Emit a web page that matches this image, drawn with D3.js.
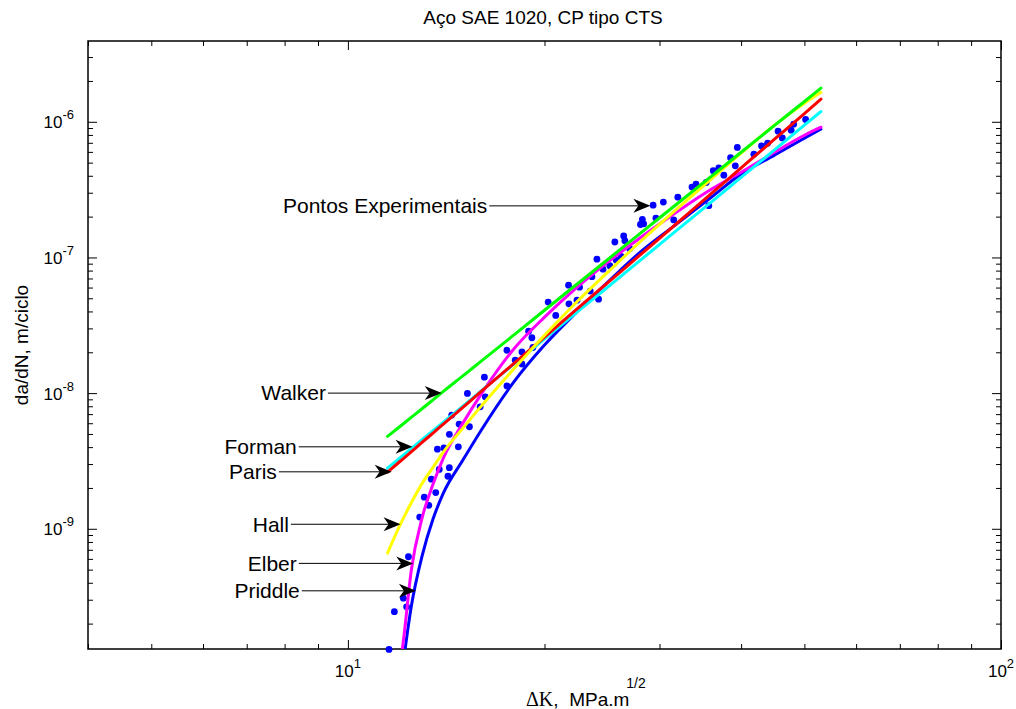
<!DOCTYPE html>
<html>
<head>
<meta charset="utf-8">
<script src="https://cdn.jsdelivr.net/npm/d3@7"></script>
<style>
  body { margin: 0; background: #fff; }
  svg text { font-family: "Liberation Sans", Arial, Helvetica, sans-serif; fill: #000; }
</style>
</head>
<body>
<script>
// ΔK (MPa.m^1/2) grid used by the model curves
const kGrid = [11.5, 12, 12.1, 12.2, 12.5, 13, 13.5, 14, 15, 16, 18, 20, 22, 25, 28, 32, 36, 40, 45, 50, 53];

// da/dN (m/ciclo) of each model, null where the curve is not drawn
const walker  = [4.80e-9, 5.65e-9, null, null, 6.62e-9, 7.70e-9, 8.93e-9, 1.03e-8, 1.34e-8, 1.72e-8, 2.71e-8, 4.08e-8, 5.90e-8, 9.66e-8, 1.50e-7, 2.51e-7, 3.96e-7, 5.96e-7, 9.40e-7, 1.41e-6, 1.77e-6];
const paris   = [2.62e-9, 3.12e-9, null, null, 3.69e-9, 4.35e-9, 5.08e-9, 5.91e-9, 7.86e-9, 1.03e-8, 1.67e-8, 2.59e-8, 3.85e-8, 6.52e-8, 1.04e-7, 1.81e-7, 2.95e-7, 4.57e-7, 7.45e-7, 1.15e-6, 1.47e-6];
const forman  = [2.80e-9, 3.31e-9, null, null, 3.89e-9, 4.55e-9, 5.28e-9, 6.10e-9, 8.02e-9, 1.04e-8, 1.65e-8, 2.51e-8, 3.66e-8, 6.05e-8, 9.48e-8, 1.61e-7, 2.56e-7, 3.89e-7, 6.21e-7, 9.46e-7, 1.19e-6];
const hall    = [6.62e-10, 1.05e-9, null, null, 1.55e-9, 2.17e-9, 2.84e-9, 3.68e-9, 5.52e-9, 8.02e-9, 1.53e-8, 2.67e-8, 4.30e-8, 7.79e-8, 1.30e-7, 2.31e-7, 3.78e-7, 5.87e-7, 9.44e-7, 1.37e-6, 1.65e-6];
const elber   = [null, null, 1.23e-10, 1.70e-10, 4.88e-10, 1.22e-9, 2.13e-9, 3.32e-9, 6.01e-9, 9.84e-9, 2.15e-8, 3.63e-8, 5.55e-8, 9.23e-8, 1.39e-7, 2.19e-7, 3.18e-7, 4.25e-7, 5.97e-7, 7.96e-7, 9.12e-7];
const priddle = [null, null, null, 1.17e-10, 2.65e-10, 6.40e-10, 1.18e-9, 1.83e-9, 3.21e-9, 5.33e-9, 1.23e-8, 2.26e-8, 3.63e-8, 6.58e-8, 1.09e-7, 1.79e-7, 2.78e-7, 4.12e-7, 5.68e-7, 7.57e-7, 8.83e-7];

// experimental points
const dotK = [11.56, 11.78, 12.16, 12.30, 12.38, 12.88, 13.09, 13.30, 13.42, 13.63, 13.71, 13.80, 14.03, 14.23, 14.30, 14.30, 14.42, 14.76, 14.80, 15.24,
  15.35, 15.94, 16.18, 16.23, 17.52, 17.52, 18.04, 18.47, 18.47, 18.91, 19.13, 19.20, 20.26, 20.81, 21.77, 21.80, 22.43, 22.63, 23.50, 23.64,
  24.06, 24.20, 24.58, 25.18, 25.63, 25.76, 26.20, 26.44, 26.55, 27.01, 28.05, 28.24, 28.37, 29.33, 29.62, 30.41, 31.54, 32.00, 33.64, 34.12,
  35.37, 35.70, 36.26, 36.98, 37.64, 38.54, 39.19, 39.47, 41.84, 42.99, 43.91, 45.57, 46.26, 47.72, 48.14, 50.22];
const dotV = [1.29e-10, 2.45e-10, 3.08e-10, 2.66e-10, 6.22e-10, 1.22e-9, 1.71e-9, 1.49e-9, 2.32e-9, 1.85e-9, 3.86e-9, 2.74e-9, 3.94e-9, 2.44e-9, 2.82e-9, 4.97e-9, 6.89e-9, 4.02e-9, 5.91e-9, 9.95e-9,
  5.65e-9, 7.93e-9, 1.31e-8, 9.39e-9, 2.07e-8, 1.13e-8, 1.75e-8, 2.01e-8, 1.64e-8, 2.86e-8, 2.56e-8, 2.17e-8, 4.69e-8, 3.74e-8, 6.25e-8, 4.55e-8, 4.84e-8, 6.04e-8, 5.65e-8, 7.22e-8,
  9.72e-8, 4.93e-8, 8.20e-8, 8.70e-8, 1.30e-7, 9.55e-8, 1.02e-7, 1.44e-7, 1.33e-7, 1.16e-7, 1.75e-7, 1.91e-7, 1.77e-7, 2.43e-7, 1.95e-7, 2.56e-7, 1.89e-7, 2.78e-7, 3.30e-7, 3.47e-7,
  3.57e-7, 2.41e-7, 4.36e-7, 4.57e-7, 4.04e-7, 5.43e-7, 4.74e-7, 6.47e-7, 5.77e-7, 6.64e-7, 6.95e-7, 8.53e-7, 7.60e-7, 8.67e-7, 9.60e-7, 1.04e-6];

// annotations (label, arrow tail ΔK, arrow tip ΔK, da/dN level)
const annotLabels = ["Pontos Experimentais", "Walker", "Forman", "Paris", "Hall", "Elber", "Priddle"];
const annotTailK  = [16.46, 9.32, 8.41, 7.84, 8.18, 8.41, 8.50];
const annotTipK   = [29.05, 13.92, 12.56, 11.67, 12.04, 12.59, 12.71];
const annotV      = [2.40e-7, 1.0e-8, 4.02e-9, 2.63e-9, 1.08e-9, 5.56e-10, 3.49e-10];

const xMajor = [10, 100];
const yMajor = [1e-9, 1e-8, 1e-7, 1e-6];

const width = 1016;
const height = 709;
const padL = 88, padR = 1001, padT = 41, padB = 649;

const svg = d3.select("body").append("svg").attr("width", width).attr("height", height);

const x = d3.scaleLog().domain([4, 100]).range([padL, padR]);
const y = d3.scaleLog().domain([1.3e-10, 3.94e-6]).range([padB, padT]);

svg.append("clipPath").attr("id", "plot")
  .append("rect").attr("x", padL).attr("y", padT).attr("width", padR - padL).attr("height", padB - padT);

/** minor ticks come from the log scales themselves */
const xMinor = x.ticks().filter(d => !xMajor.includes(d));
const yMinor = y.ticks().filter(d => !yMajor.some(m => Math.abs(d / m - 1) < 1e-6));

function ticks(axis, tr) {
  const g = svg.append("g").attr("transform", tr).call(axis);
  g.select(".domain").remove();
  g.selectAll("text").remove();
  g.selectAll("line").attr("stroke", "#000");
}
ticks(d3.axisBottom(x).tickValues(xMajor).tickSize(-9), `translate(0,${padB})`);
ticks(d3.axisBottom(x).tickValues(xMinor).tickSize(-5), `translate(0,${padB})`);
ticks(d3.axisTop(x).tickValues(xMajor).tickSize(-9), `translate(0,${padT})`);
ticks(d3.axisTop(x).tickValues(xMinor).tickSize(-5), `translate(0,${padT})`);
ticks(d3.axisLeft(y).tickValues(yMajor).tickSize(-9), `translate(${padL},0)`);
ticks(d3.axisLeft(y).tickValues(yMinor).tickSize(-5), `translate(${padL},0)`);
ticks(d3.axisRight(y).tickValues(yMajor).tickSize(-9), `translate(${padR},0)`);
ticks(d3.axisRight(y).tickValues(yMinor).tickSize(-5), `translate(${padR},0)`);

svg.append("rect")
  .attr("x", padL).attr("y", padT).attr("width", padR - padL).attr("height", padB - padT)
  .attr("fill", "none").attr("stroke", "#000").attr("stroke-width", 1.5);

/** tick labels 10^n */
const xl = svg.selectAll(".xlab").data(xMajor).join("text")
  .attr("class", "xlab")
  .attr("x", d => x(d)).attr("y", 677)
  .attr("text-anchor", "middle").style("font-size", "17px");
xl.append("tspan").text("10");
xl.append("tspan").attr("dy", -9).style("font-size", "13px").text(d => Math.round(Math.log10(d)));

const yl = svg.selectAll(".ylab").data(yMajor).join("text")
  .attr("class", "ylab")
  .attr("x", 74).attr("y", d => y(d) + 6.5)
  .attr("text-anchor", "end").style("font-size", "17px");
yl.append("tspan").text("10");
yl.append("tspan").attr("dy", -9).style("font-size", "13px").text(d => "-" + Math.round(-Math.log10(d)));

/** titles */
svg.append("text").attr("x", 543).attr("y", 24).attr("text-anchor", "middle")
  .style("font-size", "19px").text("Aço SAE 1020, CP tipo CTS");

svg.append("text").attr("transform", "translate(28,345) rotate(-90)").attr("text-anchor", "middle")
  .style("font-size", "19px").text("da/dN, m/ciclo");

const xt = svg.append("text").attr("x", 526).attr("y", 706).style("font-size", "19px");
xt.append("tspan").style("font-family", "'Liberation Serif', 'Times New Roman', serif").style("font-size", "20px").text("ΔK");
xt.append("tspan").text(",\u00a0\u00a0MPa.m");
xt.append("tspan").attr("dx", -3).attr("dy", -18).style("font-size", "14px").text("1/2");

/** experimental points */
const dots = d3.zip(dotK, dotV);
svg.append("g").selectAll("circle").data(dots).join("circle")
  .attr("cx", d => x(d[0])).attr("cy", d => y(d[1])).attr("r", 3.4)
  .attr("fill", "#0000ff");

/** model curves */
const models = [
  { name: "Priddle", color: "#0000ff", values: priddle },
  { name: "Elber", color: "#ff00ff", values: elber },
  { name: "Forman", color: "#00ffff", values: forman },
  { name: "Paris", color: "#ff0000", values: paris },
  { name: "Hall", color: "#ffff00", values: hall },
  { name: "Walker", color: "#00ff00", values: walker }
];

const line = d3.line()
  .x(d => x(d[0]))
  .y(d => y(d[1]))
  .curve(d3.curveMonotoneX);

svg.append("g").attr("clip-path", "url(#plot)")
  .selectAll("path").data(models).join("path")
  .attr("fill", "none")
  .attr("stroke", d => d.color)
  .attr("stroke-width", 3)
  .attr("stroke-linecap", "round")
  .attr("stroke-linejoin", "round")
  .attr("d", d => line(d3.zip(kGrid, d.values).filter(p => p[1] != null)));

/** annotations with arrows */
const annots = annotLabels.map((t, i) => ({ t, k0: annotTailK[i], k1: annotTipK[i], v: annotV[i] }));
const ag = svg.append("g").selectAll("g").data(annots).join("g");
ag.append("line")
  .attr("x1", d => x(d.k0)).attr("x2", d => x(d.k1) - 10)
  .attr("y1", d => y(d.v)).attr("y2", d => y(d.v))
  .attr("stroke", "#000").attr("stroke-width", 1);
ag.append("path")
  .attr("d", d => {
    const tx = x(d.k1), ty = y(d.v);
    return `M${tx},${ty}L${tx - 17},${ty - 7}L${tx - 12},${ty}L${tx - 17},${ty + 7}Z`;
  })
  .attr("fill", "#000");
ag.append("text")
  .attr("x", d => x(d.k0) - 2).attr("y", d => y(d.v)).attr("dy", "0.35em")
  .attr("text-anchor", "end").style("font-size", "21px")
  .text(d => d.t);
</script>
</body>
</html>
